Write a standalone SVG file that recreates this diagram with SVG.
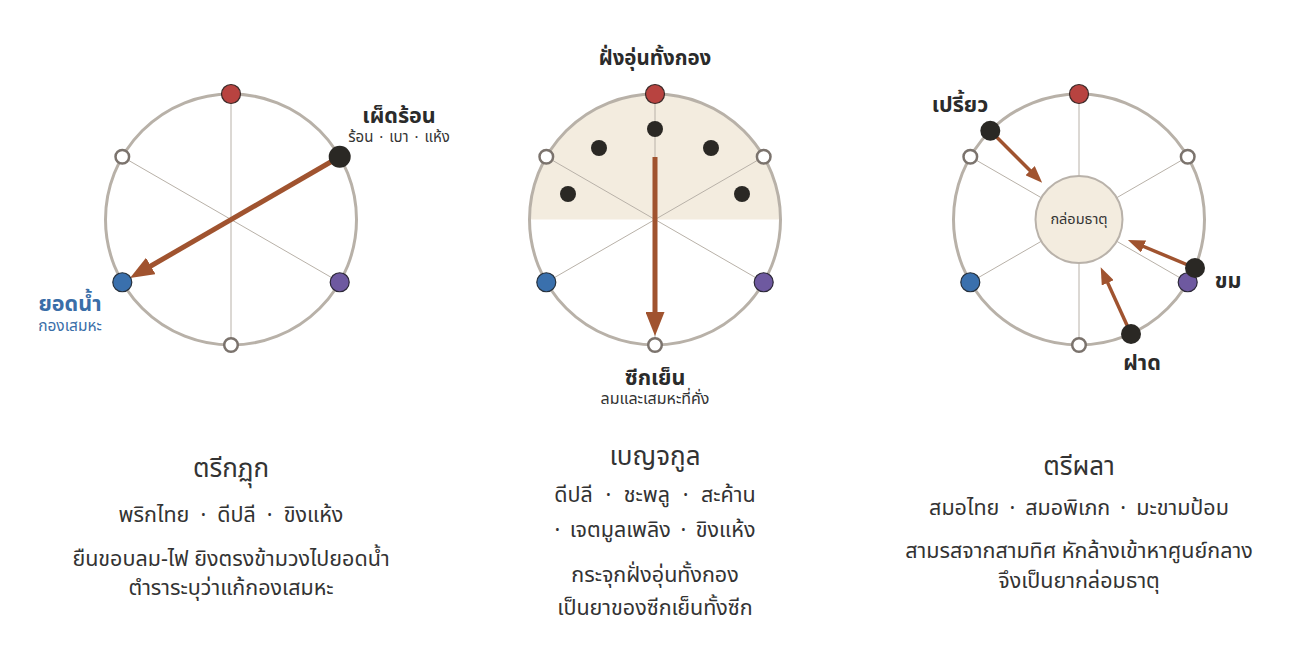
<svg xmlns="http://www.w3.org/2000/svg" width="1304" height="652" viewBox="0 0 1304 652">
<style>
text{font-family:"Noto Sans Thai","Noto Sans",sans-serif;}
.ring{fill:none;stroke:#b8b1a8;stroke-width:3;}
.spoke{stroke:#b8b1a8;stroke-width:1;}
.red{fill:#b84340;stroke:#3a2a28;stroke-width:1.2;}
.blue{fill:#3a70ad;stroke:#26303c;stroke-width:1.2;}
.purple{fill:#6e59a0;stroke:#2c2838;stroke-width:1.2;}
.open{fill:#ffffff;stroke:#7b736d;stroke-width:2.5;}
.blk{fill:#2a2824;}
.arrowBig{stroke:#a0532f;stroke-width:5;fill:none;}
.arrowSm{stroke:#a0532f;stroke-width:3.5;fill:none;}
.lbl{font-weight:bold;fill:#2b2b2b;font-size:21.5px;}
.sub{fill:#333;font-size:15.5px;}
.title{fill:#333;font-size:26px;text-anchor:middle;}
.body{fill:#333;font-size:21.5px;text-anchor:middle;}
.mid{text-anchor:middle;}
.bluet{fill:#3a6ea8;}
</style>
<defs>
<marker id="ahBig" markerUnits="userSpaceOnUse" markerWidth="24" markerHeight="19" refX="12" refY="9.5" orient="auto" viewBox="0 0 24 19">
<path d="M0,0 L24,9.5 L0,19 z" fill="#a0532f"/>
</marker>
<marker id="ahSm" markerUnits="userSpaceOnUse" markerWidth="17" markerHeight="13" refX="9" refY="6.5" orient="auto" viewBox="0 0 17 13">
<path d="M0,0 L17,6.5 L0,13 z" fill="#a0532f"/>
</marker>
</defs>
<rect width="1304" height="652" fill="#ffffff"/>

<!-- LEFT WHEEL: ตรีกฏุก -->
<g id="wheel-trikatuk">
<circle class="ring" cx="231" cy="219.5" r="125.5"/>
<line class="spoke" x1="231" y1="94" x2="231" y2="345"/>
<line class="spoke" x1="122.3" y1="156.75" x2="339.7" y2="282.25"/>
</g>
<g id="connectors-left">
<line class="arrowBig" x1="339.7" y1="156.75" x2="140.4" y2="272" marker-end="url(#ahBig)"/>
</g>
<g id="nodes-left">
<circle class="red" cx="231" cy="94" r="9.5"/>
<circle class="open" cx="339.7" cy="156.75" r="6.8"/>
<circle class="purple" cx="339.7" cy="282.25" r="9.5"/>
<circle class="open" cx="231" cy="345" r="6.8"/>
<circle class="blue" cx="122.3" cy="282.25" r="9.5"/>
<circle class="open" cx="122.3" cy="156.75" r="6.8"/>
<circle class="blk" cx="339.7" cy="156.75" r="11"/>
</g>
<g id="labels-left">
<text class="lbl mid" x="399" y="123">เผ็ดร้อน</text>
<text class="sub mid" x="399" y="142" style="font-size:15px;word-spacing:2px">ร้อน · เบา · แห้ง</text>
<text class="lbl mid bluet" x="70" y="311">ยอดน้ำ</text>
<text class="sub mid bluet" x="70" y="331">กองเสมหะ</text>
</g>
<g id="caption-left">
<text class="title" x="231" y="477">ตรีกฏุก</text>
<text class="body" x="231" y="522" style="word-spacing:5.5px">พริกไทย · ดีปลี · ขิงแห้ง</text>
<text class="body" x="231" y="566">ยืนขอบลม-ไฟ ยิงตรงข้ามวงไปยอดน้ำ</text>
<text class="body" x="231" y="595">ตำราระบุว่าแก้กองเสมหะ</text>
</g>

<!-- MIDDLE WHEEL: เบญจกูล -->
<g id="wheel-benjakul">
<path d="M529.5,219.5 A125.5,125.5 0 0 1 780.5,219.5 Z" fill="#f3ecdf"/>
<circle class="ring" cx="655" cy="219.5" r="125.5"/>
<line class="spoke" x1="655" y1="94" x2="655" y2="345"/>
<line class="spoke" x1="546.3" y1="156.75" x2="763.7" y2="282.25"/>
<line class="spoke" x1="763.7" y1="156.75" x2="546.3" y2="282.25"/>
</g>
<g id="connectors-mid">
<line class="arrowBig" x1="655" y1="157" x2="655" y2="324" marker-end="url(#ahBig)"/>
</g>
<g id="nodes-mid">
<circle class="red" cx="655" cy="94" r="9.5"/>
<circle class="open" cx="763.7" cy="156.75" r="6.8"/>
<circle class="purple" cx="763.7" cy="282.25" r="9.5"/>
<circle class="open" cx="655" cy="345" r="6.8"/>
<circle class="blue" cx="546.3" cy="282.25" r="9.5"/>
<circle class="open" cx="546.3" cy="156.75" r="6.8"/>
<circle class="blk" cx="655" cy="129" r="8"/>
<circle class="blk" cx="599" cy="148" r="8"/>
<circle class="blk" cx="711" cy="148" r="8"/>
<circle class="blk" cx="568" cy="194" r="8"/>
<circle class="blk" cx="742" cy="194" r="8"/>
</g>
<g id="labels-mid">
<text class="lbl mid" x="655" y="65" style="font-size:20.5px">ฝั่งอุ่นทั้งกอง</text>
<text class="lbl mid" x="655" y="385">ซีกเย็น</text>
<text class="sub mid" x="655" y="404" style="font-size:16px">ลมและเสมหะที่คั่ง</text>
</g>
<g id="caption-mid">
<text class="title" x="655" y="465">เบญจกูล</text>
<text class="body" x="655" y="502" style="word-spacing:7px">ดีปลี · ชะพลู · สะค้าน</text>
<text class="body" x="655" y="537" style="word-spacing:4px">· เจตมูลเพลิง · ขิงแห้ง</text>
<text class="body" x="655" y="582">กระจุกฝั่งอุ่นทั้งกอง</text>
<text class="body" x="655" y="615">เป็นยาของซีกเย็นทั้งซีก</text>
</g>

<!-- RIGHT WHEEL: ตรีผลา -->
<g id="wheel-triphala">
<circle class="ring" cx="1079" cy="219.5" r="125.5"/>
<line class="spoke" x1="1079" y1="94" x2="1079" y2="345"/>
<line class="spoke" x1="970.3" y1="156.75" x2="1187.7" y2="282.25"/>
<line class="spoke" x1="1187.7" y1="156.75" x2="970.3" y2="282.25"/>
</g>
<g id="center-node">
<circle cx="1079" cy="219.5" r="43.5" fill="#f3ecdf" stroke="#b9b2aa" stroke-width="2"/>
<text class="sub mid" x="1079" y="224" style="font-size:14.5px">กล่อมธาตุ</text>
</g>
<g id="nodes-right">
<circle class="red" cx="1079" cy="94" r="9.5"/>
<circle class="open" cx="1187.7" cy="156.75" r="6.8"/>
<circle class="purple" cx="1187.7" cy="282.25" r="9.5"/>
<circle class="open" cx="1079" cy="345" r="6.8"/>
<circle class="blue" cx="970.3" cy="282.25" r="9.5"/>
<circle class="open" cx="970.3" cy="156.75" r="6.8"/>
</g>
<g id="connectors-right">
<line class="arrowSm" x1="990.3" y1="130.8" x2="1036.5" y2="177" marker-end="url(#ahSm)"/>
<line class="arrowSm" x1="1195" y1="268" x2="1135.3" y2="243" marker-end="url(#ahSm)"/>
<line class="arrowSm" x1="1131" y1="334" x2="1104" y2="274.6" marker-end="url(#ahSm)"/>
</g>
<g id="taste-nodes-right">
<circle class="blk" cx="990.3" cy="130.8" r="10"/>
<circle class="blk" cx="1195" cy="268" r="10"/>
<circle class="blk" cx="1131" cy="334" r="10"/>
</g>
<g id="labels-right">
<text class="lbl mid" x="960" y="112">เปรี้ยว</text>
<text class="lbl mid" x="1228" y="288">ขม</text>
<text class="lbl mid" x="1142" y="370">ฝาด</text>
</g>
<g id="caption-right">
<text class="title" x="1079" y="475">ตรีผลา</text>
<text class="body" x="1079" y="515" style="word-spacing:4.5px">สมอไทย · สมอพิเภก · มะขามป้อม</text>
<text class="body" x="1079" y="558">สามรสจากสามทิศ หักล้างเข้าหาศูนย์กลาง</text>
<text class="body" x="1079" y="588">จึงเป็นยากล่อมธาตุ</text>
</g>
</svg>
